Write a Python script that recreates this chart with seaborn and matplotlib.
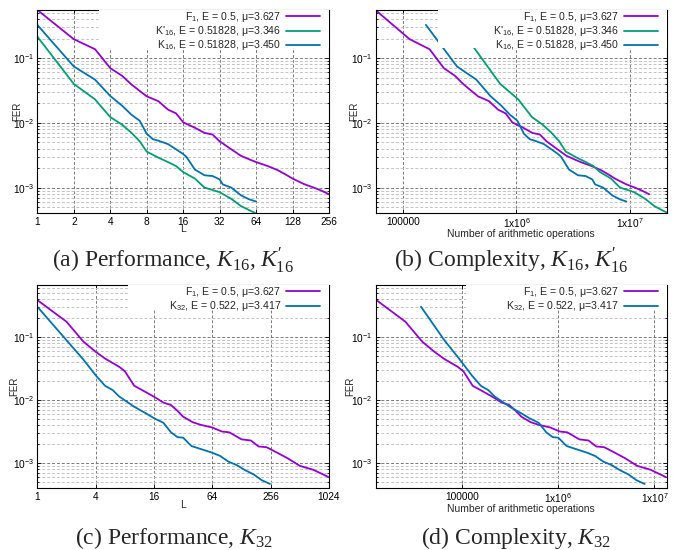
import numpy as np
import matplotlib
matplotlib.use('Agg')
import matplotlib.pyplot as plt
from matplotlib.patches import Rectangle
from matplotlib.ticker import FixedLocator, FixedFormatter, LogLocator, NullLocator, NullFormatter
import seaborn as sns

# ---------------- (a)/(b): K16 codes ----------------
L_f1_a = [1, 2, 3, 4, 5, 6, 8, 10, 12, 14, 16, 20, 24, 28, 32, 40, 48, 56, 64,
          80, 96, 112, 128, 160, 192, 224, 256]
fer_f1_a = [0.555, 0.196, 0.137, 0.070, 0.0535, 0.039, 0.0257, 0.0216, 0.016, 0.0140,
            0.0102, 0.0084, 0.0070, 0.0066, 0.0052, 0.0039, 0.0031, 0.00274, 0.00248,
            0.00215, 0.00187, 0.0016, 0.00138, 0.00113, 0.00100, 0.00089, 0.00079]
ops_f1_a = [57500, 115000, 172500, 230000, 287500, 345000, 460000, 575000, 690000, 805000,
            920000, 1150000, 1380000, 1610000, 1840000, 2300000, 2760000, 3220000, 3680000,
            4600000, 5520000, 6440000, 7360000, 9200000, 11040000, 12880000, 14720000]

L_k16p = [1, 2, 3, 4, 5, 6, 7, 8, 10, 12, 14, 16, 20, 24, 28, 32, 40, 48, 56, 64]
fer_k16p = [0.215, 0.040, 0.023, 0.0123, 0.0094, 0.0070, 0.0052, 0.0036, 0.0029, 0.00248,
            0.00215, 0.00174, 0.00138, 0.0010, 0.00092, 0.00085, 0.00067, 0.00052, 0.00045, 0.00040]
ops_k16p = [360000, 720000, 1040000, 1370000, 1700000, 2040000, 2380000, 2720000, 3400000,
            4080000, 4760000, 5440000, 6800000, 8160000, 9520000, 10880000, 13600000,
            16320000, 19040000, 21760000]

L_k16 = [1, 2, 3, 4, 5, 6, 7, 8, 9, 10, 12, 14, 16, 17, 20, 24, 28, 32, 34, 40, 48, 56, 64]
fer_k16 = [0.326, 0.0744, 0.0464, 0.026, 0.0185, 0.0133, 0.0108, 0.0068, 0.0056, 0.0053,
           0.0047, 0.0039, 0.0033, 0.0030, 0.0019, 0.00155, 0.00151, 0.00134, 0.00112,
           0.0010, 0.00076, 0.00066, 0.00061]
ops_k16 = [160000, 300000, 445000, 590000, 735000, 880000, 1020000, 1165000, 1310000,
           1455000, 1745000, 2035000, 2325000, 2470000, 2905000, 3485000, 4065000, 4645000,
           4935000, 5805000, 6965000, 8125000, 9285000]

# ---------------- (c)/(d): K32 codes ----------------
L_f1_c = [1, 2, 3, 4, 5, 6, 7, 8, 10, 12, 16, 20, 24, 28, 32, 40, 48, 64, 80, 96, 128,
          160, 192, 232, 256, 384, 512, 704, 1024]
fer_f1_c = [0.39, 0.177, 0.085, 0.059, 0.046, 0.039, 0.034, 0.029, 0.017, 0.0146, 0.0114,
            0.0092, 0.0084, 0.0068, 0.0055, 0.0045, 0.0041, 0.0037, 0.0032, 0.0031, 0.0024,
            0.0023, 0.00185, 0.0018, 0.00167, 0.0012, 0.00091, 0.00079, 0.0006]
ops_f1_c = [13000, 26000, 39000, 52000, 65000, 78000, 91000, 104000, 130000, 156000,
            208000, 260000, 312000, 364000, 416000, 520000, 624000, 832000, 1040000,
            1248000, 1664000, 2080000, 2496000, 3016000, 3328000, 4992000, 6656000,
            9152000, 13312000]

L_k32 = [1, 2, 3, 4, 5, 6, 7, 8, 10, 14, 16, 20, 24, 28, 32, 39, 52, 64, 77, 94, 114,
         139, 170, 207, 252]
fer_k32 = [0.306, 0.09, 0.044, 0.025, 0.017, 0.0145, 0.0115, 0.0100, 0.0079, 0.0059,
           0.0052, 0.0044, 0.0031, 0.0026, 0.00255, 0.00188, 0.00163, 0.00147, 0.00131,
           0.00106, 0.00094, 0.00078, 0.00067, 0.00054, 0.00047]
ops_k32 = [37800, 66000, 96000, 127000, 158000, 189000, 220000, 252000, 315000, 441000,
           504000, 630000, 756000, 882000, 1008000, 1228000, 1638000, 2016000, 2425000,
           2961000, 3591000, 4378000, 5355000, 6520000, 7938000]

lab_f1 = 'F$_1$, E = 0.5, μ=3.627'
lab_k16p = "K'$_{16}$, E = 0.51828, μ=3.346"
lab_k16 = 'K$_{16}$, E = 0.51828, μ=3.450'
lab_k32 = 'K$_{32}$, E = 0.522, μ=3.417'

ticks_a = [1, 2, 4, 8, 16, 32, 64, 128, 256]
ticks_c = [1, 4, 16, 64, 256, 1024]
ticks_ops = [1e5, 1e6, 1e7]
ticklab_ops = ['100000', '1x10$^6$', '1x10$^7$']

captions = [r'(a) Performance, $K_{\mathsf{16}}\mathsf{,}\;K^{\prime}_{\mathsf{16}}$',
            r'(b) Complexity, $K_{\mathsf{16}}\mathsf{,}\;K^{\prime}_{\mathsf{16}}$',
            r'(c) Performance, $K_{\mathsf{32}}$',
            r'(d) Complexity, $K_{\mathsf{32}}$']

PURPLE = '#9400d3'
GREEN = '#009e73'
BLUE = '#0072b2'

sns.set_theme(style='ticks')
plt.rcParams['font.family'] = ['Liberation Sans', 'DejaVu Sans']
plt.rcParams['mathtext.fontset'] = 'custom'
plt.rcParams['mathtext.rm'] = 'Liberation Sans'
plt.rcParams['mathtext.it'] = 'Liberation Serif:italic'
plt.rcParams['mathtext.sf'] = 'Liberation Serif'

W, H = 673, 550
fig = plt.figure(figsize=(W / 100, H / 100), dpi=100)


def add_axes(left, top, right, bottom):
    return fig.add_axes([left / W, 1 - bottom / H, (right - left) / W, (bottom - top) / H])


ax_a = add_axes(37.3, 10, 329, 212.7)
ax_b = add_axes(375.7, 10, 666.7, 212.7)
ax_c = add_axes(37.3, 285, 329, 487.7)
ax_d = add_axes(375.7, 285, 666.7, 487.7)


def draw(ax, series, order, key_left, key_bottom):
    for x, y, c, lab in series:
        sns.lineplot(x=x, y=y, ax=ax, color=c, linewidth=1.3, label=lab,
                     estimator=None, sort=False)
    # opaque key area like gnuplot
    ax.add_patch(Rectangle((key_left, key_bottom), 1 - key_left, 1 - key_bottom,
                           transform=ax.transAxes, facecolor='white', edgecolor='none',
                           zorder=4))
    handles, labels = ax.get_legend_handles_labels()
    hmap = dict(zip(labels, handles))
    leg = ax.legend([hmap[l] for l in order], order, loc='upper right',
                    bbox_to_anchor=(1 - 9 / 291.7, 1.0),
                    markerfirst=False, frameon=False, fontsize=7.6,
                    handlelength=3.2, handletextpad=0.5, labelspacing=0.02,
                    borderpad=0, borderaxespad=0)
    leg.set_zorder(5)


def style(ax, xbase, xlim, ylim, xticks, xticklabels, xlabel, xlab_y, ylab_x):
    ax.set_xscale('log', base=xbase)
    ax.set_yscale('log')
    ax.set_xlim(*xlim)
    ax.set_ylim(*ylim)
    ax.xaxis.set_major_locator(FixedLocator(xticks))
    ax.xaxis.set_major_formatter(FixedFormatter(xticklabels))
    ax.xaxis.set_minor_locator(NullLocator())
    ax.yaxis.set_major_locator(LogLocator(base=10, numticks=10))
    ax.yaxis.set_minor_locator(LogLocator(base=10, subs=np.arange(2, 10), numticks=20))
    ax.yaxis.set_minor_formatter(NullFormatter())
    ax.grid(which='major', axis='both', color='#7a7a7a', linestyle=(0, (3, 2)), linewidth=0.7)
    ax.grid(which='minor', axis='y', color='#c4c4c4', linestyle=(0, (3, 2)), linewidth=0.7)
    ax.set_axisbelow(True)
    ax.tick_params(which='both', direction='in', top=True, right=True, width=0.6,
                   colors='black', labelsize=7.3)
    ax.tick_params(axis='x', pad=3.2)
    ax.tick_params(axis='y', pad=2.5)
    ax.tick_params(which='major', length=3)
    ax.tick_params(which='minor', length=1.5)
    for s in ax.spines.values():
        s.set_linewidth(0.8)
        s.set_color('black')
    ax.set_xlabel(xlabel, fontsize=7.5)
    ax.set_ylabel('FER', fontsize=7)
    ax.xaxis.set_label_coords(0.5, xlab_y)
    ax.yaxis.set_label_coords(ylab_x, 0.5)


draw(ax_a, [(L_f1_a, fer_f1_a, PURPLE, lab_f1), (L_k16p, fer_k16p, GREEN, lab_k16p),
            (L_k16, fer_k16, BLUE, lab_k16)], [lab_f1, lab_k16p, lab_k16], 0.213, 0.811)
style(ax_a, 2, (1, 256), (4.1e-4, 0.553), ticks_a, [str(t) for t in ticks_a], 'L',
      -0.058, -0.051)

draw(ax_b, [(ops_f1_a, fer_f1_a, PURPLE, lab_f1), (ops_k16p, fer_k16p, GREEN, lab_k16p),
            (ops_k16, fer_k16, BLUE, lab_k16)], [lab_f1, lab_k16p, lab_k16], 0.213, 0.811)
style(ax_b, 10, (57900, 2.1e7), (4.1e-4, 0.553), ticks_ops, ticklab_ops,
      'Number of arithmetic operations', -0.08, -0.057)

draw(ax_c, [(L_f1_c, fer_f1_c, PURPLE, lab_f1), (L_k32, fer_k32, BLUE, lab_k32)],
     [lab_f1, lab_k32], 0.312, 0.877)
style(ax_c, 2, (1, 1024), (4.1e-4, 0.676), ticks_c, [str(t) for t in ticks_c], 'L',
      -0.062, -0.062)

draw(ax_d, [(ops_f1_c, fer_f1_c, PURPLE, lab_f1), (ops_k32, fer_k32, BLUE, lab_k32)],
     [lab_f1, lab_k32], 0.312, 0.877)
style(ax_d, 10, (12800, 1.345e7), (4.1e-4, 0.676), ticks_ops, ticklab_ops,
      'Number of arithmetic operations', -0.08, -0.071)

cap_pos = [(173, 267.7), (511, 267.7), (174, 544), (516, 544)]
for (cx, cy), txt in zip(cap_pos, captions):
    fig.text(cx / W, 1 - cy / H, txt, ha='center', va='baseline', fontsize=17,
             family='Liberation Serif')

fig.savefig('out.png', dpi=100)
